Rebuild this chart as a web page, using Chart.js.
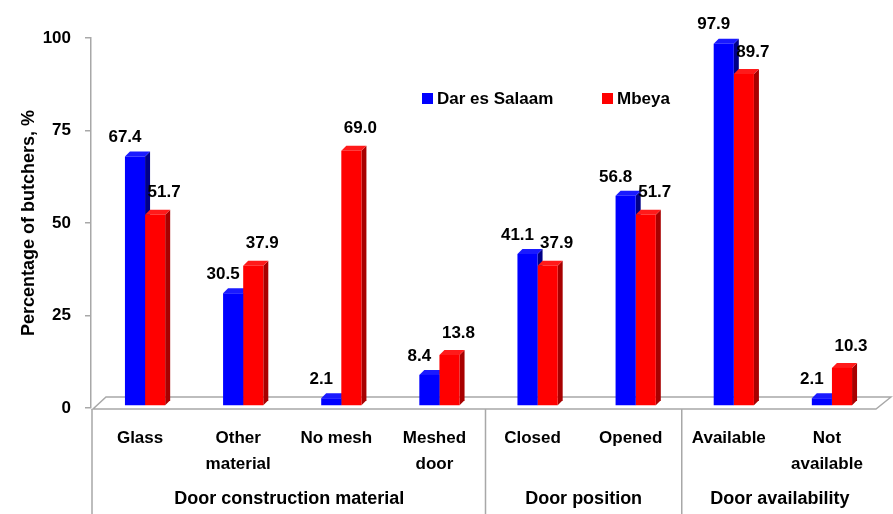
<!DOCTYPE html>
<html>
<head>
<meta charset="utf-8">
<script src="https://cdn.jsdelivr.net/npm/chart.js@4.4.1/dist/chart.umd.min.js"></script>
<style>
  html, body { margin: 0; padding: 0; background: #fff; }
  #wrap { width: 893px; height: 514px; position: relative; }
</style>
</head>
<body>
<div id="wrap"><canvas id="chart" width="893" height="514"></canvas></div>
<script>
const categories = [
  "Glass", ["Other", "material"], "No mesh", ["Meshed", "door"],
  "Closed", "Opened", "Available", ["Not", "available"]
];
const darEsSalaam = [67.4, 30.5, 2.1, 8.4, 41.1, 56.8, 97.9, 2.1];
const mbeya = [51.7, 37.9, 69.0, 13.8, 37.9, 51.7, 89.7, 10.3];
const groupLabels = ["Door construction material", "Door position", "Door availability"];
const groupSizes = [4, 2, 2];
const yTicks = [0, 25, 50, 75, 100];

const FONT = "'Liberation Sans', Arial, sans-serif";
const SHIFT_X = 5, SHIFT_Y = -2;   // bars sit mid-depth on the floor
const DEPTH_X = 5, DEPTH_Y = 5;    // 3d side/top faces
const SIDE = ["#000088", "#a80000"];
const TOP = ["#1a1aff", "#ff1a1a"];
const LABEL_OFF = [{ dx: -10, dy: -19 }, { dx: 9, dy: -22 }];

function drawFaces(ctx, el, i) {
  const { x, y, base, width } = el.getProps(["x", "y", "base", "width"], true);
  const l = x - width / 2, r = x + width / 2;
  ctx.fillStyle = SIDE[i];
  ctx.beginPath();
  ctx.moveTo(r, y);
  ctx.lineTo(r + DEPTH_X, y - DEPTH_Y);
  ctx.lineTo(r + DEPTH_X, base - DEPTH_Y);
  ctx.lineTo(r, base);
  ctx.closePath();
  ctx.fill();
  ctx.fillStyle = TOP[i];
  ctx.beginPath();
  ctx.moveTo(l, y);
  ctx.lineTo(l + DEPTH_X, y - DEPTH_Y);
  ctx.lineTo(r + DEPTH_X, y - DEPTH_Y);
  ctx.lineTo(r, y);
  ctx.closePath();
  ctx.fill();
}

const bar3d = {
  id: "bar3d",
  beforeDatasetsDraw(chart) {
    const { ctx, chartArea: a } = chart;
    const y0 = chart.scales.y.getPixelForValue(0);
    // floor
    ctx.save();
    ctx.fillStyle = "#ffffff";
    ctx.strokeStyle = "#a8a8a8";
    ctx.lineWidth = 1.5;
    ctx.beginPath();
    ctx.moveTo(a.left + 2, y0 + 1);
    ctx.lineTo(a.right, y0 + 1);
    ctx.lineTo(a.right + 15, y0 - 11);
    ctx.lineTo(a.left + 15, y0 - 11);
    ctx.closePath();
    ctx.fill();
    ctx.stroke();
    ctx.restore();

    ctx.save();
    ctx.translate(SHIFT_X, SHIFT_Y);
    chart.data.datasets.forEach((ds, i) => {
      chart.getDatasetMeta(i).data.forEach((el) => drawFaces(ctx, el, i));
    });
  },
  afterDatasetsDraw(chart) {
    const { ctx, chartArea: a, scales } = chart;
    ctx.restore();
    const y0 = scales.y.getPixelForValue(0);

    // value labels
    ctx.save();
    ctx.font = `bold 17px ${FONT}`;
    ctx.fillStyle = "#000";
    ctx.textAlign = "center";
    ctx.textBaseline = "middle";
    chart.data.datasets.forEach((ds, i) => {
      chart.getDatasetMeta(i).data.forEach((el, j) => {
        const off = LABEL_OFF[i];
        ctx.fillText(ds.data[j].toFixed(1), el.x + SHIFT_X + off.dx, el.y + SHIFT_Y + off.dy);
      });
    });

    // legend
    const legendX = [422, 602];
    chart.data.datasets.forEach((ds, i) => {
      ctx.fillStyle = ds.backgroundColor;
      ctx.fillRect(legendX[i], 93, 11, 11);
      ctx.fillStyle = "#000";
      ctx.textAlign = "left";
      ctx.fillText(ds.label, legendX[i] + 15, 99);
    });

    // category axis line and group separators
    ctx.strokeStyle = "#a8a8a8";
    ctx.lineWidth = 1.5;
    ctx.beginPath();
    ctx.moveTo(a.left + 1, y0 + 1);
    ctx.lineTo(a.left + 1, chart.height);
    let idx = 0;
    groupSizes.forEach((n, g) => {
      const first = scales.x.getPixelForValue(idx);
      const last = scales.x.getPixelForValue(idx + n - 1);
      idx += n;
      if (g > 0) {
        const bx = first - (scales.x.getPixelForValue(1) - scales.x.getPixelForValue(0)) / 2 + 2;
        ctx.moveTo(bx, y0 + 1);
        ctx.lineTo(bx, chart.height);
      }
      ctx.fillStyle = "#000";
      ctx.textAlign = "center";
      ctx.font = `bold 18px ${FONT}`;
      ctx.fillText(groupLabels[g], (first + last) / 2 + 2, 499);
    });
    ctx.stroke();
    ctx.restore();
  }
};

new Chart(document.getElementById("chart"), {
  type: "bar",
  data: {
    labels: categories,
    datasets: [
      { label: "Dar es Salaam", data: darEsSalaam, backgroundColor: "#0000ff" },
      { label: "Mbeya", data: mbeya, backgroundColor: "#ff0000" }
    ]
  },
  options: {
    responsive: false,
    animation: false,
    layout: { padding: { left: 0, right: 17, top: 38, bottom: 0 } },
    datasets: { bar: { categoryPercentage: 0.41, barPercentage: 1, clip: false } },
    scales: {
      x: {
        afterFit: (s) => { s.height = 106; },
        grid: { display: false, drawTicks: false },
        border: { display: false },
        ticks: {
          color: "#000",
          padding: 17,
          maxRotation: 0,
          autoSkip: false,
          font: { family: FONT, size: 17, weight: "bold", lineHeight: 1.53 }
        }
      },
      y: {
        min: 0,
        max: 100,
        afterFit: (s) => { s.width = 91; },
        afterBuildTicks: (s) => { s.ticks = yTicks.map((v) => ({ value: v })); },
        grid: { display: true, drawOnChartArea: false, tickLength: 6, color: "#a8a8a8", lineWidth: 1.5 },
        border: { display: true, color: "#a8a8a8", width: 1.5 },
        ticks: { color: "#000", padding: 14, font: { family: FONT, size: 17, weight: "bold" } },
        title: {
          display: true,
          text: "Percentage of butchers, %",
          color: "#000",
          padding: { top: 18, bottom: 0 },
          font: { family: FONT, size: 18, weight: "bold" }
        }
      }
    },
    plugins: {
      legend: { display: false },
      tooltip: { enabled: false }
    }
  },
  plugins: [bar3d]
});
</script>
</body>
</html>
